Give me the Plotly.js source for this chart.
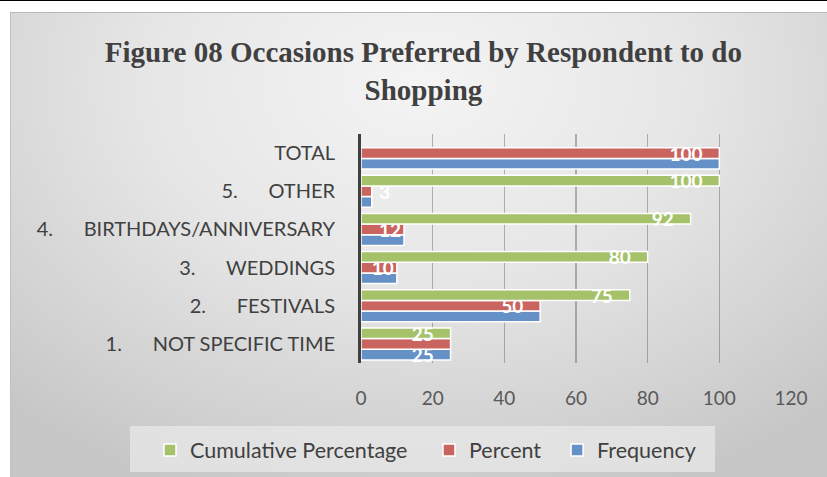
<!DOCTYPE html>
<html>
<head>
<meta charset="utf-8">
<script src="https://cdn.plot.ly/plotly-3.0.1.min.js"></script>
<style>
  html, body { margin: 0; padding: 0; background: #ffffff; width: 827px; height: 477px; overflow: hidden; }
  #topline { position: absolute; left: 0; top: 0; width: 827px; height: 1px; background: #000; }
  #bg { position: absolute; left: 10px; top: 12px; width: 817px; height: 465px;
        background: radial-gradient(ellipse 75% 95% at 50% 15%, #f4f4f4 0%, #e6e6e6 45%, #d2d2d2 80%, #c6c6c6 100%);
        border-top: 1px solid #b8b8b8; border-left: 1px solid #c0c0c0; box-sizing: border-box; }
  #chart { position: absolute; left: 0; top: 0; width: 827px; height: 477px; }
</style>
</head>
<body>
<div id="topline"></div>
<div id="bg"></div>
<div id="chart"></div>
<script>
var NB = '\u00A0'.repeat(6);
var categories = ['1.' + NB + 'NOT SPECIFIC TIME', '2.' + NB + 'FESTIVALS', '3.' + NB + 'WEDDINGS',
                  '4.' + NB + 'BIRTHDAYS/ANNIVERSARY', '5.' + NB + 'OTHER', 'TOTAL'];
var seriesNames = ['Frequency', 'Percent', 'Cumulative Percentage'];
var frequency  = [25, 50, 10, 12, 3, 100];
var percent    = [25, 50, 10, 12, 3, 100];
var cumulative = [25, 75, 80, 92, 100, null];

// which data labels are shown in the reference
var showFrequencyLabel  = [true, false, false, false, false, false];
var showPercentLabel    = [false, true, true, true, true, true];
var showCumulativeLabel = [true, true, true, true, true, false];

var PAD = '\u00A0\u00A0\u00A0';
function positions(vals) {
  return vals.map(function (v) { return (v !== null && v < 8) ? 'outside' : 'inside'; });
}
function labelsOut(vals, show) {
  return vals.map(function (v, i) {
    if (!show[i] || v === null) return '';
    if (v < 8) return '\u00A0' + String(v);
    if (v < 20) return String(v);
    return String(v) + PAD;
  });
}

var lblFont = { family: 'Lato', size: 19, color: '#ffffff', weight: 'bold' };
var barLine = { color: '#ffffff', width: 1.5 };

function mk(name, vals, show, color, legPad) {
  return {
    type: 'bar', orientation: 'h', name: name + '\u00A0'.repeat(legPad),
    y: categories, x: vals,
    text: labelsOut(vals, show), textposition: positions(vals), textangle: 0,
    insidetextanchor: 'end', constraintext: 'none', cliponaxis: false,
    textfont: lblFont, insidetextfont: lblFont, outsidetextfont: lblFont,
    marker: { color: color, line: barLine },
    hoverinfo: 'x+name'
  };
}

var data = [
  mk(seriesNames[0], frequency, showFrequencyLabel, '#6591c6', 0),
  mk(seriesNames[1], percent, showPercentLabel, '#c9645f', 2),
  mk(seriesNames[2], cumulative, showCumulativeLabel, '#a5c26b', 3)
];

var layout = {
  width: 827, height: 477,
  paper_bgcolor: 'rgba(0,0,0,0)', plot_bgcolor: 'rgba(0,0,0,0)',
  margin: { l: 361, r: 36, t: 134, b: 114, autoexpand: false },
  barmode: 'group', bargap: 0.16, bargroupgap: 0,
  font: { family: 'Lato', color: '#404040' },
  title: {
    text: 'Figure 08 Occasions Preferred by Respondent to do<br>Shopping',
    font: { family: 'Liberation Serif', size: 29, color: '#404040', weight: 'bold' },
    x: 0.512, xanchor: 'center', xref: 'container',
    y: 1 - 62 / 477, yanchor: 'top', yref: 'container'
  },
  xaxis: {
    range: [0, 120], dtick: 20, tick0: 0,
    showgrid: true, gridcolor: 'rgba(80,80,80,0.4)', gridwidth: 1.5,
    zeroline: false, showline: false, ticks: '',
    tickfont: { family: 'Lato', size: 19, color: '#595959' },
    ticklabelstandoff: 22, fixedrange: true
  },
  yaxis: {
    type: 'category', showline: true, linecolor: '#404040', linewidth: 3,
    showgrid: false, zeroline: false, ticks: '',
    tickfont: { family: 'Lato', size: 20, color: '#404040' },
    ticklabelstandoff: 19, fixedrange: true
  },
  showlegend: true,
  legend: {
    orientation: 'h', traceorder: 'reversed',
    xref: 'paper', yref: 'paper',
    x: (150 - 361) / 430, xanchor: 'left', y: (363 - 450) / 229, yanchor: 'middle',
    bgcolor: 'rgba(0,0,0,0)',
    font: { family: 'Lato', size: 21.5, color: '#404040' }
  },
  shapes: [{
    type: 'rect', layer: 'below', xref: 'paper', yref: 'paper',
    x0: (130 - 361) / 430, x1: (715 - 361) / 430,
    y0: (363 - 472) / 229, y1: (363 - 426) / 229,
    fillcolor: 'rgba(232,232,232,0.75)', line: { width: 0 }
  }]
};

Plotly.newPlot('chart', data, layout, { displayModeBar: false, staticPlot: true });
</script>
</body>
</html>
